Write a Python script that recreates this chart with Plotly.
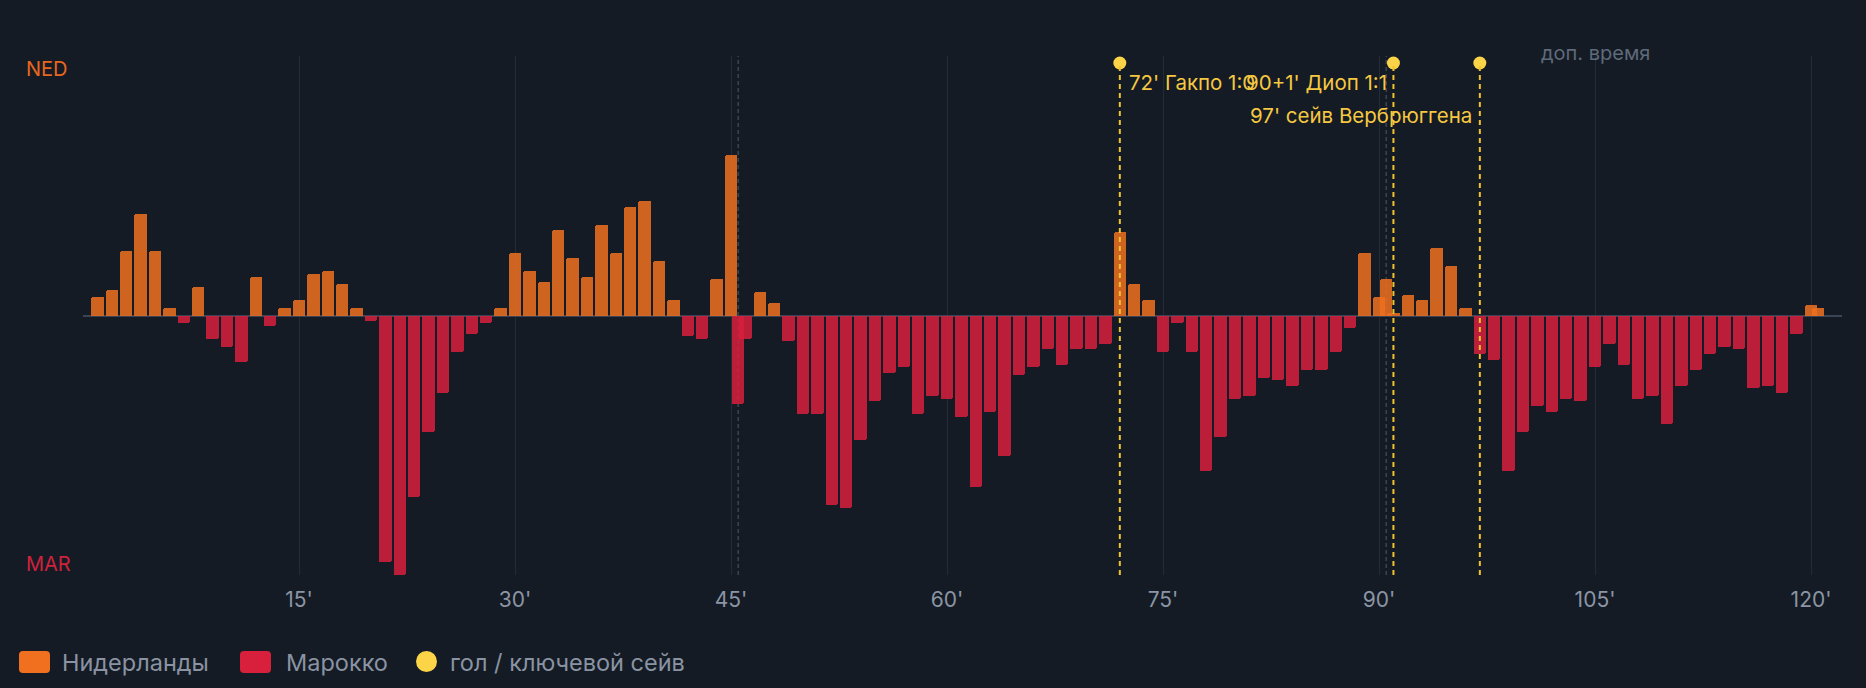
import plotly.graph_objects as go

# ---------------- data ----------------
minutes = [1, 2, 3, 4, 5, 6, 7, 8, 9, 10, 11, 12, 13, 14, 15, 16, 17, 18, 19, 20,
           21, 22, 23, 24, 25, 26, 27, 28, 29, 30, 31, 32, 33, 34, 35, 36, 37, 38, 39, 40,
           41, 42, 43, 44, 45, 45.5, 46, 47, 48, 49, 50, 51, 52, 53, 54, 55, 56, 57, 58, 59, 60,
           61, 62, 63, 64, 65, 66, 67, 68, 69, 70, 71, 72, 73, 74, 75, 76, 77, 78, 79, 80,
           81, 82, 83, 84, 85, 86, 87, 88, 89, 90, 90.5, 91, 92, 93, 94, 95, 96, 97, 98, 99, 100,
           101, 102, 103, 104, 105, 106, 107, 108, 109, 110, 111, 112, 113, 114, 115, 116, 117, 118, 119, 120, 120.5]
momentum = [7, 10, 25, 39, 25, 3, -3, 11, -9, -12, -18, 15, -4, 3, 6, 16, 17, 12, 3, -2,
            -95, -100, -70, -45, -30, -14, -7, -3, 3, 24, 17, 13, 33, 22, 15, 35, 24, 42, 44, 21,
            6, -8, -9, 14, 62, -34, -9, 9, 5, -10, -38, -38, -73, -74, -48, -33, -22, -20, -38, -31, -32,
            -39, -66, -37, -54, -23, -20, -13, -19, -13, -13, -11, 32, 12, 6, -14, -3, -14, -60, -47, -32,
            -31, -24, -25, -27, -21, -21, -14, -5, 24, 7, 14, 1, 8, 6, 26, 19, 3, -15, -17, -60, -45,
            -35, -37, -32, -33, -20, -11, -19, -32, -31, -42, -27, -21, -15, -12, -13, -28, -27, -30, -7, 4, 3]

tick_minutes = [15, 30, 45, 60, 75, 90, 105, 120]
tick_labels = ["15'", "30'", "45'", "60'", "75'", "90'", "105'", "120'"]

half_ends = [45.5, 90.5]
event_minutes = [72, 91, 97]
event_labels = ["72' Гакпо 1:0", "90+1' Диоп 1:1", "97' сейв Вербрюггена"]

team_names = ["Нидерланды", "Марокко", "гол / ключевой сейв"]
team_short = ["NED", "MAR"]
extra_time_label = "доп. время"

# ---------------- style ----------------
BG = "#141b24"
ORANGE = "#f07020"
RED = "#d81f3c"
YELLOW = "#fcd447"
BAR_ORANGE = "rgba(240,112,32,0.85)"
BAR_RED = "rgba(216,31,60,0.85)"
GRID = "#222b37"
TXT = "#8a93a3"
FONT = "Inter"

ned_x = [m for m, v in zip(minutes, momentum) if v > 0]
ned_y = [v for v in momentum if v > 0]
mar_x = [m for m, v in zip(minutes, momentum) if v < 0]
mar_y = [v for v in momentum if v < 0]

fig = go.Figure()
fig.add_trace(go.Bar(x=ned_x, y=ned_y, width=0.86, name=team_names[0],
                     marker=dict(color=BAR_ORANGE, line=dict(width=0), cornerradius=2),
                     showlegend=False, hoverinfo="x+y"))
fig.add_trace(go.Bar(x=mar_x, y=mar_y, width=0.86, name=team_names[1],
                     marker=dict(color=BAR_RED, line=dict(width=0), cornerradius=2),
                     showlegend=False, hoverinfo="x+y"))

marker_y = 97.3
fig.add_trace(go.Scatter(x=event_minutes, y=[marker_y] * len(event_minutes), mode="markers",
                         marker=dict(size=13, color=YELLOW), cliponaxis=False,
                         showlegend=False, hoverinfo="skip"))

shapes = []
for h in half_ends:
    shapes.append(dict(type="line", xref="x", yref="y", x0=h, x1=h, y0=-100, y1=100,
                       line=dict(color="#3a4555", width=1.5, dash="4px,3px"), layer="below"))
for m in event_minutes:
    shapes.append(dict(type="line", xref="x", yref="y", x0=m, x1=m, y0=-100, y1=marker_y,
                       line=dict(color="#f0c232", width=2, dash="5px,4px"), layer="above"))

# ---------------- manual legend (paper coords) ----------------
L, W, B, H = 83, 1759, 575, 519


def px(xp):
    return (xp - L) / W


def py(yp):
    return (B - yp) / H


def rrect(x0, y0, x1, y1, r):
    return (f"M {px(x0 + r)},{py(y0)} L {px(x1 - r)},{py(y0)} Q {px(x1)},{py(y0)} {px(x1)},{py(y0 + r)} "
            f"L {px(x1)},{py(y1 - r)} Q {px(x1)},{py(y1)} {px(x1 - r)},{py(y1)} "
            f"L {px(x0 + r)},{py(y1)} Q {px(x0)},{py(y1)} {px(x0)},{py(y1 - r)} "
            f"L {px(x0)},{py(y0 + r)} Q {px(x0)},{py(y0)} {px(x0 + r)},{py(y0)} Z")


shapes.append(dict(type="path", xref="paper", yref="paper", path=rrect(19, 651, 50, 673, 4),
                   fillcolor=ORANGE, line=dict(width=0)))
shapes.append(dict(type="path", xref="paper", yref="paper", path=rrect(240, 651, 271, 673, 4),
                   fillcolor=RED, line=dict(width=0)))
shapes.append(dict(type="circle", xref="paper", yref="paper", x0=px(416), x1=px(437),
                   y0=py(672), y1=py(651), fillcolor=YELLOW, line=dict(width=0)))

annotations = []
for xp, t in zip([60, 284, 448], team_names):
    annotations.append(dict(xref="paper", yref="paper", x=px(xp), y=py(662), text=t,
                            xanchor="left", yanchor="middle", showarrow=False,
                            font=dict(family=FONT, size=23.5, color=TXT)))

annotations.append(dict(xref="paper", yref="paper", x=px(24), y=py(69), text=team_short[0],
                        xanchor="left", yanchor="middle", showarrow=False,
                        font=dict(family=FONT, size=20, color="#e8671f")))
annotations.append(dict(xref="paper", yref="paper", x=px(24), y=py(564), text=team_short[1],
                        xanchor="left", yanchor="middle", showarrow=False,
                        font=dict(family=FONT, size=20, color="#d0213d")))

annotations.append(dict(xref="x", yref="paper", x=105, y=1, yshift=3, text=extra_time_label,
                        xanchor="center", yanchor="middle", showarrow=False,
                        font=dict(family=FONT, size=20, color="#5f6a7a")))

ev_anchor = ["left", "right", "right"]
ev_shift = [7, -4, -6]
ev_y = [82, 82, 115]
for m, t, a, s, yy in zip(event_minutes, event_labels, ev_anchor, ev_shift, ev_y):
    annotations.append(dict(xref="x", yref="paper", x=m, y=py(yy), text=t, xanchor=a,
                            yanchor="middle", xshift=s, showarrow=False,
                            font=dict(family=FONT, size=20.5, color="#f5c842")))

fig.update_layout(
    width=1866, height=688,
    margin=dict(l=83, r=24, t=56, b=113),
    paper_bgcolor=BG, plot_bgcolor=BG,
    barmode="overlay", bargap=0,
    shapes=shapes, annotations=annotations,
    font=dict(family=FONT, color=TXT),
    xaxis=dict(range=[0, 122.15], tickvals=tick_minutes, ticktext=tick_labels,
               showgrid=True, gridcolor=GRID, gridwidth=1, zeroline=False,
               showline=False, ticks="", ticklabelstandoff=10,
               tickfont=dict(family=FONT, size=21, color="#8b95a5"), fixedrange=True),
    yaxis=dict(range=[-100, 100], showgrid=False, showticklabels=False,
               zeroline=True, zerolinecolor="#3a4454", zerolinewidth=2, fixedrange=True),
    showlegend=False,
)

fig.write_html("out.html")
